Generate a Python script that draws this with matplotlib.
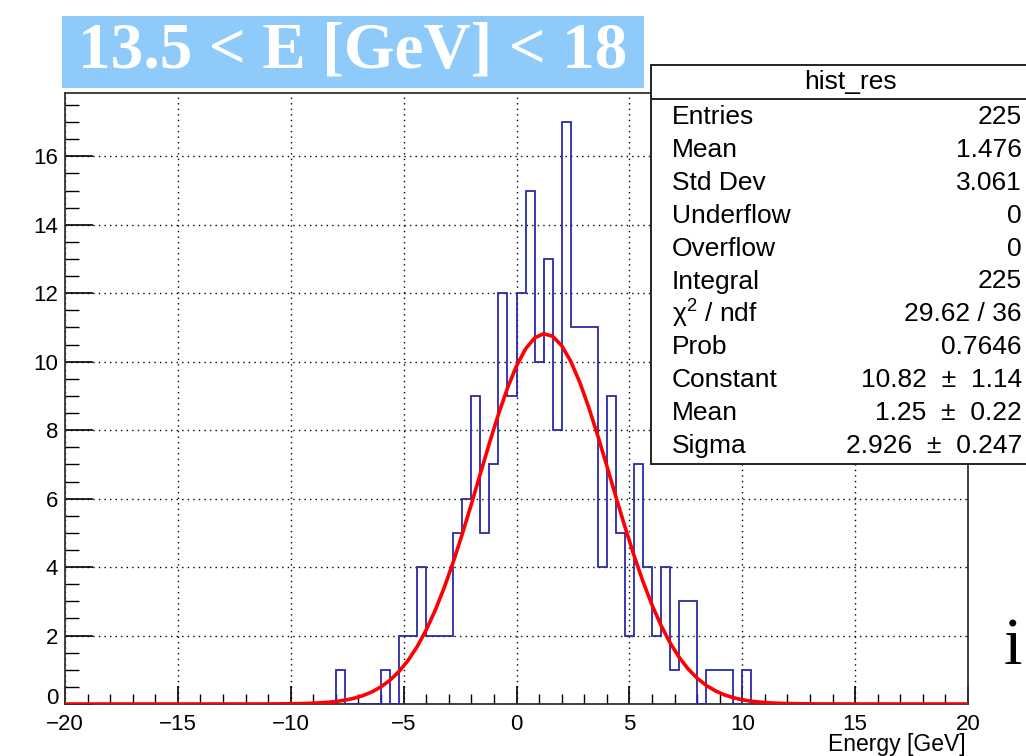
import numpy as np
import matplotlib
matplotlib.use("Agg")
import matplotlib.pyplot as plt
import matplotlib.transforms as mtransforms
from matplotlib.patches import Rectangle
from matplotlib.lines import Line2D
from matplotlib.ticker import MultipleLocator

# hist_res: 100 bins of 0.4 GeV from -20 to 20, counts listed from the first filled bin (-8.0)
n_bins = 100
x_lo, x_hi = -20.0, 20.0
first_filled = -8.0
filled_counts = [1, 0, 0, 0, 0, 1, 0, 2, 2, 4, 2, 2, 2, 5, 6, 9, 5, 7, 12, 9,
                 12, 15, 10, 13, 8, 17, 11, 11, 11, 4, 9, 5, 2, 7, 4, 2, 4, 1, 3, 3,
                 0, 1, 1, 1, 0, 1]

# gaussian fit result shown in the stats box
fit_constant = 10.82
fit_mean = 1.25
fit_sigma = 2.926

stat_labels = ["Entries", "Mean", "Std Dev", "Underflow", "Overflow", "Integral",
               "χ$^{2}$ / ndf", "Prob", "Constant", "Mean", "Sigma"]
stat_values = ["225", "1.476", "3.061", "0", "0", "225", "29.62 / 36", "0.7646",
               "10.82  ±  1.14", "1.25  ±  0.22", "2.926  ±  0.247"]

title = "13.5 < E [GeV] < 18"
x_label = "Energy [GeV]"

W, H = 1026, 756


def fx(px):
    return px / W


def fy(py):
    return 1 - py / H


plt.rcParams['font.family'] = ['Liberation Sans', 'DejaVu Sans']
plt.rcParams['mathtext.fontset'] = 'custom'
plt.rcParams['mathtext.rm'] = 'Liberation Sans'
plt.rcParams['mathtext.it'] = 'Liberation Sans:italic'

fig = plt.figure(figsize=(W / 100, H / 100), dpi=100)
ax_l, ax_r, ax_t, ax_b = 65, 968, 93, 704
ax = fig.add_axes([fx(ax_l), fy(ax_b), fx(ax_r - ax_l), (ax_b - ax_t) / H])

edges = np.linspace(x_lo, x_hi, n_bins + 1)
counts = np.zeros(n_bins)
start = int(round((first_filled - x_lo) / (edges[1] - edges[0])))
counts[start:start + len(filled_counts)] = filled_counts

ax.stairs(counts, edges, color='#2a2aaa', lw=1.3, zorder=3)

xf = np.linspace(x_lo, x_hi, 101)
yf = fit_constant * np.exp(-0.5 * ((xf - fit_mean) / fit_sigma) ** 2)
ax.plot(xf, yf, color='#ff0000', lw=2.6, zorder=4)

ax.set_xlim(x_lo, x_hi)
ax.set_ylim(0, 1.05 * max(filled_counts))
ax.xaxis.set_major_locator(MultipleLocator(5))
ax.xaxis.set_minor_locator(MultipleLocator(1))
ax.yaxis.set_major_locator(MultipleLocator(2))
ax.yaxis.set_minor_locator(MultipleLocator(0.5))
ax.tick_params(which='major', axis='x', direction='in', length=13, width=1.2, labelsize=16, pad=7)
ax.tick_params(which='minor', axis='x', direction='in', length=7, width=1.0)
ax.tick_params(which='major', axis='y', direction='in', length=20, width=1.2, labelsize=16, pad=5)
ax.tick_params(which='minor', axis='y', direction='in', length=10, width=1.0)
ax.grid(True, which='major', color='black', linestyle=(0, (1, 3)), lw=1.0)
for s in ax.spines.values():
    s.set_linewidth(1.3)
    s.set_color('#333333')

# lift the "0" on the y axis a little so it clears the "-20" below it
fig.canvas.draw()
lift = mtransforms.ScaledTranslation(0, 6 / 72, fig.dpi_scale_trans)
for lbl in ax.get_yticklabels():
    if lbl.get_text() in ("0", "−0"):
        lbl.set_transform(lbl.get_transform() + lift)

# title banner
fig.add_artist(Rectangle((fx(62), fy(88)), fx(644 - 62), (88 - 16) / H,
                         transform=fig.transFigure, facecolor='#8ecafa', edgecolor='none'))
fig.text(fx(353), fy(52), title, family='Liberation Serif', weight='bold',
         color='white', fontsize=47, ha='center', va='center')

# stats box
box_l, box_r, box_t, box_b, head_b = 651, 1034, 65, 464, 99
fig.add_artist(Rectangle((fx(box_l), fy(box_b)), fx(box_r - box_l), (box_b - box_t) / H,
                         transform=fig.transFigure, facecolor='white',
                         edgecolor='#222222', lw=1.4, zorder=10))
fig.add_artist(Line2D([fx(box_l), fx(box_r)], [fy(head_b), fy(head_b)],
                      transform=fig.transFigure, color='#222222', lw=1.4, zorder=11))
fig.text(fx(850), fy(82), "hist_res", fontsize=19,
         ha='center', va='center', zorder=12)
for i, (lab, val) in enumerate(zip(stat_labels, stat_values)):
    y = 117 + i * 32.9
    fig.text(fx(672), fy(y), lab, fontsize=19, ha='left', va='center', zorder=12)
    fig.text(fx(1022), fy(y), val, fontsize=19, ha='right', va='center', zorder=12)

fig.text(fx(966), fy(745), x_label, fontsize=16.5, ha='right', va='center')
fig.text(fx(1013), fy(648), "i", family='Liberation Serif', fontsize=48,
         ha='center', va='center')

fig.savefig("out.png", dpi=100)
